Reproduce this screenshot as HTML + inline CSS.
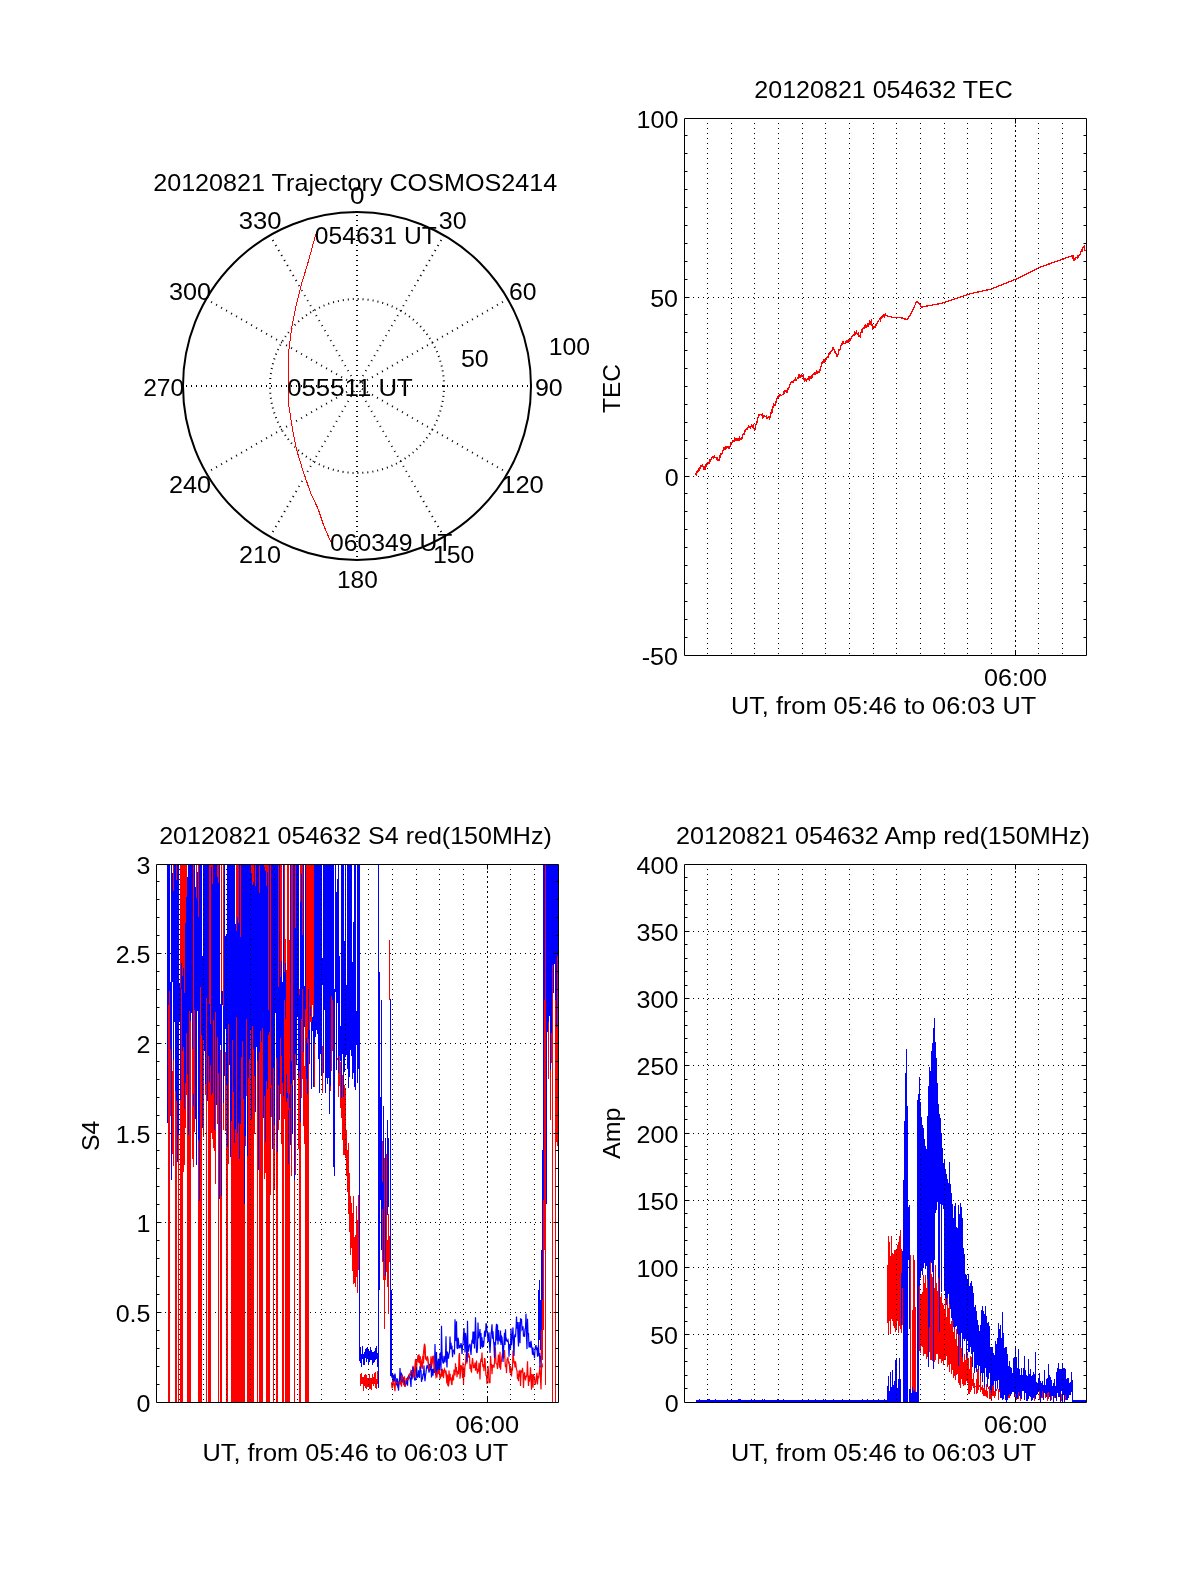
<!DOCTYPE html>
<html><head><meta charset="utf-8"><title>plot</title><style>html,body{margin:0;padding:0;background:#fff;width:1200px;height:1575px;overflow:hidden}svg text{font-family:"Liberation Sans",sans-serif}</style></head><body><svg width="1200" height="1575" viewBox="0 0 1200 1575" style="display:block;background:#fff">
<rect width="1200" height="1575" fill="#fff"/>
<circle cx="357.0" cy="386.0" r="87" fill="none" stroke="#000" stroke-width="2" stroke-dasharray="1 4"/>
<line x1="357.00" y1="386.00" x2="357.00" y2="212.00" stroke="#000" stroke-width="2" stroke-dasharray="1 4.000"/>
<line x1="357.00" y1="386.00" x2="444.00" y2="235.31" stroke="#000" stroke-width="2" stroke-dasharray="1 4.774"/>
<line x1="357.00" y1="386.00" x2="507.69" y2="299.00" stroke="#000" stroke-width="2" stroke-dasharray="1 4.774"/>
<line x1="357.00" y1="386.00" x2="531.00" y2="386.00" stroke="#000" stroke-width="2" stroke-dasharray="1 4.000"/>
<line x1="357.00" y1="386.00" x2="507.69" y2="473.00" stroke="#000" stroke-width="2" stroke-dasharray="1 4.774"/>
<line x1="357.00" y1="386.00" x2="444.00" y2="536.69" stroke="#000" stroke-width="2" stroke-dasharray="1 4.774"/>
<line x1="357.00" y1="386.00" x2="357.00" y2="560.00" stroke="#000" stroke-width="2" stroke-dasharray="1 4.000"/>
<line x1="357.00" y1="386.00" x2="270.00" y2="536.69" stroke="#000" stroke-width="2" stroke-dasharray="1 4.774"/>
<line x1="357.00" y1="386.00" x2="206.31" y2="473.00" stroke="#000" stroke-width="2" stroke-dasharray="1 4.774"/>
<line x1="357.00" y1="386.00" x2="183.00" y2="386.00" stroke="#000" stroke-width="2" stroke-dasharray="1 4.000"/>
<line x1="357.00" y1="386.00" x2="206.31" y2="299.00" stroke="#000" stroke-width="2" stroke-dasharray="1 4.774"/>
<line x1="357.00" y1="386.00" x2="270.00" y2="235.31" stroke="#000" stroke-width="2" stroke-dasharray="1 4.774"/>
<circle cx="357.0" cy="386.0" r="174.0" fill="none" stroke="#000" stroke-width="2"/>
<polyline fill="none" stroke="#f00" stroke-width="1" shape-rendering="crispEdges" points="315.9,234.0 307.8,263.2 301.3,284.8 295.9,306.3 291.6,327.9 288.9,349.5 288.3,370.0 288.5,386.0 289.0,406.6 292.3,428.2 296.6,449.8 303.1,471.3 310.6,492.9 318.2,509.1 323.6,525.3 330.6,541.5"/>
<g stroke="#000" stroke-width="1" fill="none">
<line x1="1015.5" y1="125" x2="1015.5" y2="655" stroke-dasharray="1 4"/>
<line x1="688" y1="476.5" x2="1086" y2="476.5" stroke-dasharray="1 4"/>
<line x1="688" y1="297.5" x2="1086" y2="297.5" stroke-dasharray="1 4"/>
</g>
<polyline fill="none" stroke="#f00" stroke-width="1.3" shape-rendering="crispEdges" points="695.5,475.1 696.0,473.7 696.5,474.5 697.0,471.8 697.5,472.4 698.0,471.1 698.5,469.3 699.0,469.9 699.5,467.6 700.0,468.0 700.5,466.0 701.0,465.2 701.5,465.5 702.0,466.9 702.5,465.4 703.0,466.5 703.5,468.5 704.0,469.6 704.5,467.8 705.0,466.7 705.5,467.9 706.0,464.4 706.5,466.4 707.0,463.9 707.5,462.9 708.0,462.2 708.5,462.2 709.0,463.2 709.5,460.6 710.0,461.3 710.5,460.9 711.0,459.4 711.5,459.4 712.0,457.2 712.5,456.6 713.0,456.5 713.5,457.4 714.0,456.0 714.5,455.7 715.0,457.1 715.5,457.2 716.0,457.2 716.5,459.3 717.0,459.5 717.5,458.6 718.0,460.1 718.5,459.9 719.0,460.0 719.5,458.6 720.0,456.1 720.5,457.4 721.0,453.6 721.5,453.6 722.0,453.7 722.5,450.8 723.0,450.8 723.5,448.4 724.0,449.4 724.5,448.7 725.0,447.9 725.5,448.7 726.0,446.8 726.5,448.0 727.0,447.5 727.5,447.4 728.0,446.9 728.5,448.0 729.0,448.3 729.5,446.7 730.0,446.7 730.5,443.6 731.0,444.4 731.5,443.0 732.0,443.0 732.5,442.3 733.0,440.4 733.5,440.6 734.0,441.3 734.5,439.1 735.0,440.3 735.5,439.2 736.0,438.9 736.5,438.5 737.0,440.6 737.5,438.4 738.0,438.6 738.5,438.9 739.0,440.3 739.5,437.6 740.0,438.6 740.5,438.7 741.0,439.6 741.5,438.9 742.0,438.1 742.5,435.4 743.0,435.0 743.5,433.9 744.0,434.7 744.5,434.0 745.0,430.6 745.5,429.9 746.0,429.6 746.5,429.1 747.0,429.4 747.5,429.2 748.0,427.7 748.5,426.4 749.0,427.2 749.5,426.5 750.0,426.7 750.5,427.4 751.0,426.1 751.5,425.0 752.0,425.6 752.5,426.4 753.0,425.1 753.5,428.5 754.0,428.8 754.5,429.8 755.0,429.3 755.5,426.4 756.0,424.8 756.5,422.2 757.0,422.3 757.5,418.9 758.0,417.3 758.5,416.1 759.0,414.3 759.5,415.0 760.0,414.2 760.5,414.2 761.0,414.8 761.5,414.8 762.0,415.7 762.5,414.8 763.0,417.6 763.5,416.9 764.0,415.5 764.5,416.0 765.0,416.4 765.5,416.6 766.0,416.0 766.5,418.4 767.0,419.0 767.5,417.6 768.0,418.1 768.5,417.4 769.0,417.9 769.5,418.8 770.0,416.8 770.5,417.0 771.0,413.1 771.5,411.0 772.0,412.3 772.5,409.3 773.0,407.0 773.5,407.2 774.0,404.4 774.5,404.9 775.0,405.3 775.5,403.8 776.0,402.2 776.5,399.7 777.0,399.0 777.5,397.3 778.0,398.1 778.5,396.2 779.0,396.4 779.5,394.7 780.0,394.1 780.5,395.7 781.0,396.0 781.5,395.4 782.0,395.0 782.5,394.8 783.0,394.3 783.5,392.4 784.0,393.1 784.5,392.3 785.0,391.0 785.5,390.8 786.0,391.3 786.5,391.0 787.0,392.2 787.5,391.8 788.0,388.6 788.5,388.7 789.0,387.4 789.5,386.4 790.0,384.0 790.5,383.0 791.0,382.5 791.5,381.9 792.0,381.5 792.5,382.3 793.0,382.7 793.5,382.0 794.0,380.3 794.5,380.4 795.0,380.4 795.5,377.6 796.0,379.2 796.5,379.7 797.0,379.0 797.5,378.6 798.0,377.4 798.5,376.2 799.0,377.9 799.5,376.1 800.0,377.3 800.5,377.6 801.0,375.4 801.5,375.2 802.0,376.6 802.5,375.6 803.0,375.2 803.5,377.6 804.0,378.8 804.5,381.1 805.0,380.7 805.5,378.4 806.0,380.5 806.5,380.9 807.0,379.7 807.5,378.6 808.0,379.1 808.5,377.4 809.0,376.6 809.5,379.3 810.0,377.9 810.5,377.2 811.0,378.1 811.5,376.2 812.0,377.2 812.5,376.7 813.0,374.4 813.5,374.1 814.0,373.9 814.5,373.3 815.0,374.1 815.5,372.7 816.0,372.8 816.5,371.5 817.0,373.7 817.5,371.5 818.0,371.5 818.5,371.5 819.0,372.2 819.5,370.1 820.0,370.5 820.5,368.0 821.0,366.9 821.5,365.7 822.0,362.9 822.5,363.1 823.0,361.8 823.5,360.7 824.0,362.8 824.5,360.3 825.0,360.7 825.5,361.0 826.0,359.7 826.5,358.1 827.0,357.9 827.5,357.1 828.0,357.0 828.5,354.0 829.0,354.6 829.5,352.7 830.0,352.0 830.5,352.7 831.0,351.0 831.5,350.3 832.0,350.1 832.5,349.7 833.0,347.7 833.5,349.1 834.0,349.6 834.5,350.5 835.0,352.0 835.5,352.1 836.0,353.2 836.5,353.9 837.0,356.2 837.5,354.8 838.0,354.2 838.5,353.3 839.0,350.0 839.5,349.9 840.0,350.0 840.5,348.6 841.0,345.2 841.5,344.1 842.0,344.0 842.5,342.1 843.0,342.4 843.5,341.7 844.0,343.4 844.5,343.6 845.0,343.7 845.5,341.2 846.0,342.8 846.5,342.4 847.0,340.5 847.5,342.7 848.0,342.5 848.5,339.6 849.0,341.4 849.5,339.2 850.0,338.9 850.5,340.0 851.0,339.0 851.5,336.4 852.0,336.7 852.5,336.5 853.0,335.4 853.5,334.5 854.0,334.3 854.5,335.1 855.0,332.4 855.5,333.6 856.0,333.0 856.5,331.9 857.0,333.2 857.5,334.3 858.0,334.2 858.5,333.1 859.0,336.3 859.5,335.9 860.0,336.7 860.5,332.9 861.0,332.5 861.5,330.8 862.0,332.1 862.5,329.5 863.0,328.1 863.5,328.0 864.0,328.6 864.5,327.8 865.0,325.7 865.5,325.1 866.0,327.3 866.5,325.9 867.0,326.1 867.5,323.9 868.0,323.5 868.5,325.1 869.0,323.6 869.5,321.9 870.0,324.0 870.5,322.3 871.0,322.2 871.5,319.3 872.0,325.4 872.5,326.5 873.0,328.7 873.5,327.0 874.0,326.3 874.5,326.6 875.0,327.4 875.5,324.9 876.0,324.1 876.5,325.0 877.0,323.5 877.5,322.2 878.0,321.5 878.5,320.3 879.0,320.0 879.5,319.5 880.0,318.8 880.5,319.9 881.0,318.0 881.5,318.2 882.0,316.8 882.5,316.9 883.0,315.5 883.5,315.8 884.0,314.7 884.5,316.5 885.0,315.6 885.5,314.5 886.0,315.7 886.5,315.8 887.0,315.9 887.5,316.0 888.0,316.2 888.5,316.3 889.0,316.4 889.5,316.5 890.0,316.7 890.5,316.8 891.0,316.9 891.5,317.0 892.0,317.2 892.5,317.3 893.0,317.4 893.5,317.5 894.0,317.5 894.5,317.5 895.0,317.5 895.5,317.5 896.0,317.5 896.5,317.5 897.0,317.4 897.5,317.4 898.0,317.4 898.5,317.4 899.0,317.4 899.5,317.4 900.0,317.4 900.5,317.6 901.0,317.7 901.5,317.9 902.0,318.0 902.5,318.2 903.0,318.4 903.5,318.5 904.0,318.7 904.5,318.9 905.0,319.0 905.5,319.2 906.0,319.3 906.5,319.5 907.0,319.7 907.5,319.1 908.0,318.3 908.5,317.5 909.0,316.7 909.5,315.9 910.0,315.1 910.5,314.3 911.0,313.6 911.5,312.5 912.0,311.5 912.5,310.4 913.0,309.3 913.5,308.2 914.0,307.1 914.5,306.0 915.0,305.0 915.5,303.9 916.0,302.8 916.5,301.7 917.0,301.8 917.5,302.1 918.0,302.4 918.5,302.8 919.0,303.1 919.5,303.9 920.0,304.8 920.5,305.6 921.0,306.4 921.5,307.1 922.0,307.0 922.5,306.9 923.0,306.8 923.5,306.7 924.0,306.6 924.5,306.5 925.0,306.4 925.5,306.3 926.0,306.2 926.5,306.1 927.0,306.0 927.5,306.0 928.0,305.9 928.5,305.8 929.0,305.7 929.5,305.6 930.0,305.5 930.5,305.4 931.0,305.3 931.5,305.2 932.0,305.1 932.5,305.0 933.0,304.9 933.5,304.8 934.0,304.7 934.5,304.6 935.0,304.5 935.5,304.5 936.0,304.4 936.5,304.3 937.0,304.2 937.5,304.1 938.0,304.0 938.5,303.9 939.0,303.8 939.5,303.7 940.0,303.6 940.5,303.5 941.0,303.4 941.5,303.3 942.0,303.2 942.5,303.1 943.0,303.0 943.5,302.8 944.0,302.7 944.5,302.5 945.0,302.3 945.5,302.2 946.0,302.0 946.5,301.8 947.0,301.7 947.5,301.5 948.0,301.3 948.5,301.2 949.0,301.0 949.5,300.8 950.0,300.7 950.5,300.5 951.0,300.3 951.5,300.2 952.0,300.0 952.5,299.8 953.0,299.7 953.5,299.5 954.0,299.3 954.5,299.2 955.0,299.0 955.5,298.8 956.0,298.7 956.5,298.5 957.0,298.3 957.5,298.2 958.0,298.0 958.5,297.8 959.0,297.7 959.5,297.5 960.0,297.3 960.5,297.2 961.0,297.0 961.5,296.8 962.0,296.7 962.5,296.5 963.0,296.3 963.5,296.2 964.0,296.0 964.5,295.8 965.0,295.7 965.5,295.5 966.0,295.3 966.5,295.2 967.0,295.0 967.5,294.8 968.0,294.7 968.5,294.5 969.0,294.3 969.5,294.2 970.0,294.0 970.5,293.8 971.0,293.7 971.5,293.5 972.0,293.4 972.5,293.3 973.0,293.2 973.5,293.1 974.0,293.0 974.5,292.8 975.0,292.7 975.5,292.6 976.0,292.5 976.5,292.4 977.0,292.3 977.5,292.2 978.0,292.0 978.5,291.9 979.0,291.8 979.5,291.7 980.0,291.6 980.5,291.5 981.0,291.4 981.5,291.2 982.0,291.1 982.5,291.0 983.0,290.9 983.5,290.8 984.0,290.7 984.5,290.6 985.0,290.5 985.5,290.3 986.0,290.2 986.5,290.1 987.0,290.0 987.5,289.9 988.0,289.8 988.5,289.7 989.0,289.5 989.5,289.4 990.0,289.3 990.5,289.2 991.0,289.1 991.5,289.0 992.0,288.8 992.5,288.6 993.0,288.4 993.5,288.2 994.0,288.0 994.5,287.8 995.0,287.6 995.5,287.4 996.0,287.2 996.5,287.0 997.0,286.8 997.5,286.6 998.0,286.4 998.5,286.2 999.0,286.0 999.5,285.8 1000.0,285.6 1000.5,285.4 1001.0,285.2 1001.5,285.0 1002.0,284.8 1002.5,284.6 1003.0,284.4 1003.5,284.2 1004.0,284.0 1004.5,283.8 1005.0,283.6 1005.5,283.4 1006.0,283.2 1006.5,283.0 1007.0,282.8 1007.5,282.6 1008.0,282.4 1008.5,282.2 1009.0,282.0 1009.5,281.8 1010.0,281.6 1010.5,281.4 1011.0,281.2 1011.5,281.0 1012.0,280.8 1012.5,280.6 1013.0,280.4 1013.5,280.2 1014.0,280.0 1014.5,279.8 1015.0,279.6 1015.5,279.4 1016.0,279.2 1016.5,278.9 1017.0,278.7 1017.5,278.4 1018.0,278.2 1018.5,277.9 1019.0,277.7 1019.5,277.4 1020.0,277.2 1020.5,276.9 1021.0,276.7 1021.5,276.4 1022.0,276.2 1022.5,275.9 1023.0,275.7 1023.5,275.4 1024.0,275.2 1024.5,274.9 1025.0,274.7 1025.5,274.4 1026.0,274.2 1026.5,273.9 1027.0,273.7 1027.5,273.4 1028.0,273.2 1028.5,272.9 1029.0,272.7 1029.5,272.4 1030.0,272.2 1030.5,271.9 1031.0,271.7 1031.5,271.4 1032.0,271.2 1032.5,270.9 1033.0,270.7 1033.5,270.4 1034.0,270.2 1034.5,269.9 1035.0,269.7 1035.5,269.4 1036.0,269.2 1036.5,268.9 1037.0,268.7 1037.5,268.4 1038.0,268.2 1038.5,267.9 1039.0,267.7 1039.5,267.4 1040.0,267.2 1040.5,267.1 1041.0,266.9 1041.5,266.7 1042.0,266.5 1042.5,266.4 1043.0,266.2 1043.5,266.0 1044.0,265.8 1044.5,265.6 1045.0,265.5 1045.5,265.3 1046.0,265.1 1046.5,264.9 1047.0,264.7 1047.5,264.6 1048.0,264.4 1048.5,264.2 1049.0,264.0 1049.5,263.9 1050.0,263.7 1050.5,263.5 1051.0,263.3 1051.5,263.1 1052.0,263.0 1052.5,262.8 1053.0,262.6 1053.5,262.4 1054.0,262.2 1054.5,262.1 1055.0,261.9 1055.5,261.7 1056.0,261.5 1056.5,261.4 1057.0,261.2 1057.5,261.0 1058.0,260.8 1058.5,260.6 1059.0,260.5 1059.5,260.3 1060.0,260.1 1060.5,259.9 1061.0,259.7 1061.5,259.6 1062.0,259.4 1062.5,259.2 1063.0,259.0 1063.5,258.9 1064.0,258.7 1064.5,258.5 1065.0,258.3 1065.5,258.1 1066.0,258.0 1066.5,257.8 1067.0,257.6 1067.5,257.4 1068.0,257.2 1068.5,257.1 1069.0,256.9 1069.5,256.7 1070.0,256.5 1070.5,256.4 1071.0,256.2 1071.5,256.0 1072.0,255.8 1072.5,255.6 1073.0,257.9 1073.5,256.7 1074.0,260.1 1074.5,259.1 1075.0,258.9 1075.5,259.4 1076.0,257.7 1076.5,257.6 1077.0,257.7 1077.5,258.1 1078.0,255.8 1078.5,256.8 1079.0,256.0 1079.5,255.3 1080.0,254.2 1080.5,253.5 1081.0,251.6 1081.5,250.7 1082.0,249.4 1082.5,250.3 1083.0,247.7 1083.5,246.3 1084.0,246.2 1084.5,249.3 1085.0,250.3 1085.5,250.5 1086.0,250.2"/>
<g stroke="#000" stroke-width="1" fill="none">
<line x1="707.5" y1="123" x2="707.5" y2="655" stroke-dasharray="1 4"/>
<line x1="731.5" y1="123" x2="731.5" y2="655" stroke-dasharray="1 4"/>
<line x1="754.5" y1="123" x2="754.5" y2="655" stroke-dasharray="1 4"/>
<line x1="778.5" y1="123" x2="778.5" y2="655" stroke-dasharray="1 4"/>
<line x1="802.5" y1="123" x2="802.5" y2="655" stroke-dasharray="1 4"/>
<line x1="825.5" y1="123" x2="825.5" y2="655" stroke-dasharray="1 4"/>
<line x1="849.5" y1="123" x2="849.5" y2="655" stroke-dasharray="1 4"/>
<line x1="873.5" y1="123" x2="873.5" y2="655" stroke-dasharray="1 4"/>
<line x1="896.5" y1="123" x2="896.5" y2="655" stroke-dasharray="1 4"/>
<line x1="920.5" y1="123" x2="920.5" y2="655" stroke-dasharray="1 4"/>
<line x1="944.5" y1="123" x2="944.5" y2="655" stroke-dasharray="1 4"/>
<line x1="967.5" y1="123" x2="967.5" y2="655" stroke-dasharray="1 4"/>
<line x1="991.5" y1="123" x2="991.5" y2="655" stroke-dasharray="1 4"/>
<line x1="1015.5" y1="126" x2="1015.5" y2="655" stroke-dasharray="1 4"/>
<line x1="1038.5" y1="123" x2="1038.5" y2="655" stroke-dasharray="1 4"/>
<line x1="1062.5" y1="123" x2="1062.5" y2="655" stroke-dasharray="1 4"/>
</g>
<path fill="none" stroke="#000" stroke-width="1" d="M684.5 118.5H1086.5V655.5H684.5ZM684.5 637.5h3M1086.5 637.5h-3M684.5 619.5h3M1086.5 619.5h-3M684.5 601.5h3M1086.5 601.5h-3M684.5 583.5h3M1086.5 583.5h-3M684.5 565.5h3M1086.5 565.5h-3M684.5 547.5h3M1086.5 547.5h-3M684.5 529.5h3M1086.5 529.5h-3M684.5 511.5h3M1086.5 511.5h-3M684.5 493.5h3M1086.5 493.5h-3M684.5 476.5h5M1086.5 476.5h-5M684.5 458.5h3M1086.5 458.5h-3M684.5 440.5h3M1086.5 440.5h-3M684.5 422.5h3M1086.5 422.5h-3M684.5 404.5h3M1086.5 404.5h-3M684.5 386.5h3M1086.5 386.5h-3M684.5 368.5h3M1086.5 368.5h-3M684.5 350.5h3M1086.5 350.5h-3M684.5 332.5h3M1086.5 332.5h-3M684.5 314.5h3M1086.5 314.5h-3M684.5 297.5h5M1086.5 297.5h-5M684.5 279.5h3M1086.5 279.5h-3M684.5 261.5h3M1086.5 261.5h-3M684.5 243.5h3M1086.5 243.5h-3M684.5 225.5h3M1086.5 225.5h-3M684.5 207.5h3M1086.5 207.5h-3M684.5 189.5h3M1086.5 189.5h-3M684.5 171.5h3M1086.5 171.5h-3M684.5 153.5h3M1086.5 153.5h-3M684.5 135.5h3M1086.5 135.5h-3M1015.5 118.5v5M1015.5 655.5v-5"/>
<g stroke="#000" stroke-width="1" fill="none">
<line x1="487.5" y1="871" x2="487.5" y2="1402" stroke-dasharray="1 4"/>
<line x1="160" y1="1312.5" x2="558" y2="1312.5" stroke-dasharray="1 4"/>
<line x1="160" y1="1222.5" x2="558" y2="1222.5" stroke-dasharray="1 4"/>
<line x1="160" y1="1133.5" x2="558" y2="1133.5" stroke-dasharray="1 4"/>
<line x1="160" y1="1043.5" x2="558" y2="1043.5" stroke-dasharray="1 4"/>
<line x1="160" y1="953.5" x2="558" y2="953.5" stroke-dasharray="1 4"/>
</g>
<path fill="#f00" d="M168 865h1v537h-1zM169 865h1v537h-1zM170 1035h1v81h-1zM171 865h1v275h-1zM172 1071h1v83h-1zM173 865h1v301h-1zM175 865h1v537h-1zM176 865h1v537h-1zM177 865h1v225h-1zM178 865h1v537h-1zM180 865h1v537h-1zM181 865h1v537h-1zM182 865h1v537h-1zM183 865h1v307h-1zM184 865h1v300h-1zM185 865h1v263h-1zM186 865h1v230h-1zM187 1063h1v339h-1zM188 865h1v537h-1zM189 865h1v537h-1zM190 865h1v537h-1zM192 865h1v294h-1zM193 865h1v302h-1zM194 865h1v267h-1zM195 1054h1v23h-1zM196 865h1v224h-1zM198 865h1v537h-1zM199 865h1v537h-1zM200 865h1v537h-1zM201 865h1v537h-1zM203 865h1v272h-1zM205 865h1v230h-1zM206 865h1v537h-1zM207 865h1v225h-1zM208 865h1v537h-1zM209 865h1v537h-1zM210 865h1v537h-1zM211 865h1v268h-1zM212 865h1v274h-1zM213 865h1v283h-1zM214 865h1v286h-1zM215 865h1v319h-1zM217 865h1v259h-1zM218 865h1v537h-1zM220 1050h1v352h-1zM221 865h1v537h-1zM223 865h1v265h-1zM225 1052h1v79h-1zM226 964h1v438h-1zM227 865h1v537h-1zM228 865h1v299h-1zM231 865h1v537h-1zM232 865h1v537h-1zM233 865h1v537h-1zM234 865h1v537h-1zM235 1050h1v352h-1zM236 865h1v537h-1zM237 865h1v537h-1zM238 865h1v537h-1zM239 865h1v537h-1zM240 865h1v537h-1zM241 865h1v537h-1zM242 865h1v537h-1zM243 865h1v537h-1zM244 865h1v537h-1zM245 865h1v281h-1zM246 865h1v231h-1zM247 865h1v537h-1zM248 865h1v537h-1zM249 865h1v537h-1zM250 865h1v537h-1zM251 865h1v537h-1zM252 865h1v537h-1zM253 865h1v537h-1zM254 865h1v269h-1zM255 865h1v233h-1zM257 865h1v537h-1zM259 865h1v537h-1zM260 865h1v537h-1zM261 865h1v537h-1zM262 865h1v537h-1zM264 865h1v314h-1zM265 865h1v308h-1zM266 865h1v537h-1zM267 865h1v537h-1zM268 865h1v537h-1zM269 865h1v537h-1zM270 865h1v330h-1zM271 865h1v252h-1zM272 865h1v261h-1zM273 865h1v537h-1zM274 865h1v324h-1zM276 865h1v537h-1zM277 865h1v537h-1zM278 865h1v265h-1zM280 865h1v229h-1zM281 865h1v279h-1zM282 994h1v408h-1zM283 865h1v537h-1zM284 865h1v254h-1zM285 939h1v463h-1zM286 970h1v432h-1zM287 865h1v537h-1zM288 865h1v537h-1zM289 940h1v462h-1zM291 865h1v311h-1zM292 865h1v225h-1zM294 865h1v537h-1zM295 865h1v310h-1zM298 865h1v284h-1zM299 989h1v413h-1zM300 865h1v537h-1zM301 865h1v233h-1zM302 865h1v214h-1zM303 865h1v261h-1zM304 1066h1v78h-1zM305 865h1v537h-1zM306 865h1v537h-1zM307 865h1v537h-1zM308 865h1v537h-1zM309 865h1v183h-1zM310 865h1v157h-1zM311 865h1v199h-1zM312 865h1v140h-1zM313 865h1v166h-1zM314 865h1v222h-1zM315 865h1v164h-1zM317 865h1v162h-1zM318 865h1v151h-1zM321 865h1v179h-1zM322 1046h1v47h-1zM323 865h1v188h-1zM325 865h1v198h-1zM327 865h1v179h-1zM330 865h1v226h-1zM331 865h1v206h-1zM332 865h1v186h-1zM333 865h1v167h-1zM336 1022h1v23h-1zM337 1058h1v2h-1zM338 1017h1v80h-1zM339 1044h1v42h-1zM340 1062h1v46h-1zM341 1056h1v62h-1zM342 1075h1v65h-1zM343 1094h1v61h-1zM344 1085h1v70h-1zM345 1088h1v70h-1zM346 1130h1v46h-1zM347 1150h1v42h-1zM348 1143h1v71h-1zM349 1173h1v59h-1zM350 1196h1v59h-1zM351 1203h1v45h-1zM352 1213h1v58h-1zM353 1196h1v88h-1zM354 1237h1v46h-1zM355 1235h1v52h-1zM356 1206h1v71h-1zM357 1220h1v73h-1zM358 1195h1v75h-1zM359 1211h1v72h-1zM360 1374h1v12h-1zM361 1373h1v11h-1zM362 1377h1v7h-1zM363 1377h1v14h-1zM364 1375h1v11h-1zM365 1374h1v14h-1zM366 1375h1v14h-1zM367 1378h1v9h-1zM368 1378h1v9h-1zM369 1374h1v15h-1zM370 1378h1v11h-1zM371 1378h1v12h-1zM372 1374h1v10h-1zM373 1377h1v9h-1zM374 1373h1v11h-1zM375 1372h1v16h-1zM376 1379h1v10h-1zM377 1371h1v13h-1zM389 940h1v60h-1zM382 1141h1v121h-1zM383 1127h1v153h-1zM384 1158h1v171h-1zM385 1207h1v73h-1zM386 1154h1v118h-1zM387 1240h1v47h-1zM388 1214h1v100h-1zM389 1236h1v26h-1zM390 1148h1v141h-1zM543 865h1v312h-1zM545 1092h1v293h-1zM548 865h1v214h-1zM549 865h1v144h-1zM550 865h1v255h-1zM551 865h1v198h-1zM552 865h1v537h-1zM555 865h1v537h-1zM556 865h1v277h-1zM557 865h1v281h-1z"/>
<path fill="#00f" d="M167 865h1v258h-1zM168 865h1v140h-1zM169 865h1v126h-1zM170 982h1v67h-1zM171 865h1v315h-1zM172 873h1v109h-1zM173 891h1v169h-1zM174 865h1v157h-1zM175 865h1v226h-1zM176 880h1v221h-1zM177 865h1v297h-1zM178 865h1v270h-1zM179 983h1v39h-1zM180 988h1v112h-1zM181 963h1v26h-1zM182 976h1v75h-1zM183 968h1v79h-1zM184 993h1v116h-1zM185 923h1v160h-1zM186 897h1v136h-1zM187 877h1v197h-1zM188 865h1v270h-1zM189 865h1v146h-1zM190 865h1v156h-1zM191 865h1v148h-1zM192 865h1v184h-1zM193 1094h1v12h-1zM194 865h1v145h-1zM195 887h1v232h-1zM196 898h1v267h-1zM197 872h1v139h-1zM198 917h1v223h-1zM199 865h1v336h-1zM200 865h1v122h-1zM201 865h1v170h-1zM202 956h1v172h-1zM203 865h1v175h-1zM204 865h1v186h-1zM205 865h1v219h-1zM206 865h1v133h-1zM207 865h1v236h-1zM208 865h1v191h-1zM209 1004h1v78h-1zM210 1024h1v41h-1zM211 867h1v228h-1zM212 884h1v209h-1zM213 865h1v155h-1zM214 865h1v265h-1zM215 865h1v147h-1zM216 865h1v240h-1zM217 877h1v160h-1zM218 883h1v190h-1zM219 865h1v334h-1zM220 1004h1v41h-1zM221 991h1v205h-1zM222 991h1v14h-1zM223 1006h1v97h-1zM224 865h1v211h-1zM225 936h1v93h-1zM226 935h1v150h-1zM227 865h1v282h-1zM228 865h1v159h-1zM229 865h1v200h-1zM230 865h1v292h-1zM231 865h1v256h-1zM232 865h1v175h-1zM233 865h1v227h-1zM234 865h1v278h-1zM235 924h1v205h-1zM236 931h1v86h-1zM237 917h1v216h-1zM238 923h1v200h-1zM239 865h1v294h-1zM240 937h1v187h-1zM241 865h1v192h-1zM242 865h1v176h-1zM243 865h1v234h-1zM244 865h1v339h-1zM245 865h1v271h-1zM246 865h1v154h-1zM247 865h1v291h-1zM248 865h1v213h-1zM249 865h1v194h-1zM250 865h1v165h-1zM251 873h1v246h-1zM252 885h1v141h-1zM253 882h1v167h-1zM254 865h1v211h-1zM255 886h1v226h-1zM256 865h1v182h-1zM257 865h1v196h-1zM258 865h1v305h-1zM259 893h1v159h-1zM260 865h1v166h-1zM261 865h1v177h-1zM262 865h1v163h-1zM263 865h1v253h-1zM264 867h1v229h-1zM265 871h1v271h-1zM266 886h1v195h-1zM267 872h1v217h-1zM268 1010h1v25h-1zM269 865h1v167h-1zM270 1088h1v29h-1zM271 865h1v220h-1zM272 865h1v284h-1zM273 865h1v203h-1zM274 865h1v260h-1zM275 865h1v148h-1zM276 865h1v193h-1zM277 865h1v287h-1zM278 987h1v98h-1zM279 865h1v255h-1zM280 977h1v61h-1zM281 961h1v95h-1zM282 982h1v101h-1zM283 865h1v231h-1zM284 972h1v28h-1zM285 963h1v56h-1zM286 1074h1v28h-1zM287 1093h1v5h-1zM288 1110h1v54h-1zM289 1094h1v14h-1zM290 865h1v280h-1zM291 1061h1v23h-1zM292 1085h1v49h-1zM293 865h1v215h-1zM294 865h1v315h-1zM295 928h1v126h-1zM296 865h1v200h-1zM297 865h1v152h-1zM298 865h1v213h-1zM299 995h1v76h-1zM300 902h1v220h-1zM301 874h1v145h-1zM302 935h1v54h-1zM303 865h1v187h-1zM304 986h1v41h-1zM305 865h1v144h-1zM306 1038h1v41h-1zM307 1043h1v51h-1zM308 989h1v50h-1zM309 1030h1v34h-1zM310 1007h1v9h-1zM311 1022h1v67h-1zM312 1017h1v14h-1zM313 1016h1v71h-1zM314 865h1v178h-1zM315 865h1v172h-1zM316 865h1v165h-1zM317 865h1v169h-1zM318 865h1v194h-1zM319 865h1v228h-1zM320 865h1v189h-1zM321 865h1v211h-1zM322 958h1v27h-1zM323 865h1v208h-1zM324 865h1v145h-1zM325 865h1v228h-1zM326 865h1v213h-1zM327 865h1v219h-1zM328 865h1v213h-1zM329 865h1v249h-1zM330 865h1v221h-1zM331 865h1v131h-1zM332 865h1v135h-1zM333 865h1v302h-1zM334 989h1v187h-1zM335 865h1v127h-1zM336 892h1v178h-1zM337 879h1v124h-1zM338 865h1v208h-1zM339 956h1v100h-1zM340 1026h1v35h-1zM341 865h1v233h-1zM342 865h1v189h-1zM343 865h1v232h-1zM344 941h1v131h-1zM345 865h1v192h-1zM346 985h1v70h-1zM347 865h1v204h-1zM348 865h1v223h-1zM349 865h1v212h-1zM350 865h1v185h-1zM351 865h1v191h-1zM352 962h1v117h-1zM353 922h1v151h-1zM354 865h1v222h-1zM355 865h1v225h-1zM356 1011h1v34h-1zM357 865h1v218h-1zM358 865h1v204h-1zM359 865h1v496h-1zM360 1347h1v16h-1zM361 1354h1v13h-1zM362 1346h1v13h-1zM363 1354h1v11h-1zM364 1352h1v13h-1zM365 1349h1v9h-1zM366 1348h1v14h-1zM367 1347h1v12h-1zM368 1349h1v15h-1zM369 1351h1v11h-1zM370 1347h1v13h-1zM371 1350h1v10h-1zM372 1352h1v13h-1zM373 1352h1v11h-1zM374 1351h1v11h-1zM375 1348h1v12h-1zM376 1346h1v13h-1zM377 1353h1v14h-1zM378 865h1v523h-1zM379 972h1v318h-1zM381 1000h1v250h-1zM380 1097h1v103h-1zM382 1182h1v27h-1zM383 1106h1v155h-1zM385 1138h1v138h-1zM387 1120h1v95h-1zM388 1138h1v69h-1zM390 999h1v377h-1zM391 1290h1v86h-1zM545 865h1v207h-1zM546 865h1v219h-1zM547 865h1v167h-1zM548 865h1v157h-1zM549 865h1v151h-1zM550 865h1v205h-1zM551 865h1v168h-1zM552 865h1v100h-1zM553 865h1v128h-1zM554 865h1v99h-1zM555 865h1v135h-1zM556 865h1v162h-1zM557 865h1v91h-1zM546 1000h1v204h-1z"/>
<polyline fill="none" stroke="#f00" stroke-width="1.2" stroke-linejoin="miter" points="391.5,1382.6 392.0,1388.3 392.5,1387.1 393.0,1381.0 393.5,1379.5 394.0,1383.8 394.5,1386.9 395.0,1391.1 395.5,1379.6 396.0,1381.7 396.5,1381.5 397.0,1378.6 397.5,1383.3 398.0,1388.3 398.5,1382.6 399.0,1382.5 399.5,1380.8 400.0,1383.7 400.5,1382.3 401.0,1383.4 401.5,1386.6 402.0,1375.1 402.5,1376.7 403.0,1378.7 403.5,1383.7 404.0,1385.3 404.5,1376.4 405.0,1386.4 405.5,1384.7 406.0,1383.2 406.5,1378.0 407.0,1381.2 407.5,1377.3 408.0,1380.0 408.5,1376.2 409.0,1374.9 409.5,1374.3 410.0,1374.7 410.5,1375.3 411.0,1371.3 411.5,1372.4 412.0,1371.4 412.5,1371.4 413.0,1365.8 413.5,1372.6 414.0,1377.4 414.5,1372.7 415.0,1376.7 415.5,1359.2 416.0,1362.8 416.5,1373.0 417.0,1360.5 417.5,1359.5 418.0,1355.1 418.5,1362.3 419.0,1354.2 419.5,1363.2 420.0,1356.4 420.5,1368.3 421.0,1361.8 421.5,1361.9 422.0,1368.4 422.5,1368.3 423.0,1356.1 423.5,1363.4 424.0,1354.2 424.5,1343.9 425.0,1345.8 425.5,1357.8 426.0,1359.3 426.5,1360.0 427.0,1357.1 427.5,1356.8 428.0,1359.5 428.5,1365.6 429.0,1369.5 429.5,1370.9 430.0,1370.5 430.5,1364.6 431.0,1356.2 431.5,1368.3 432.0,1363.7 432.5,1357.0 433.0,1357.6 433.5,1356.8 434.0,1367.9 434.5,1373.0 435.0,1371.3 435.5,1370.9 436.0,1377.0 436.5,1375.9 437.0,1377.5 437.5,1362.6 438.0,1370.3 438.5,1374.1 439.0,1363.4 439.5,1373.6 440.0,1378.5 440.5,1377.7 441.0,1375.1 441.5,1369.0 442.0,1376.8 442.5,1369.8 443.0,1370.5 443.5,1378.2 444.0,1372.3 444.5,1369.2 445.0,1370.5 445.5,1371.4 446.0,1371.2 446.5,1375.3 447.0,1383.3 447.5,1374.5 448.0,1384.8 448.5,1386.2 449.0,1370.6 449.5,1381.0 450.0,1373.9 450.5,1380.1 451.0,1377.4 451.5,1383.9 452.0,1385.0 452.5,1375.9 453.0,1376.9 453.5,1380.5 454.0,1369.6 454.5,1374.1 455.0,1375.4 455.5,1363.2 456.0,1372.1 456.5,1367.1 457.0,1377.3 457.5,1370.8 458.0,1372.9 458.5,1374.3 459.0,1355.5 459.5,1353.1 460.0,1378.8 460.5,1372.8 461.0,1365.1 461.5,1366.7 462.0,1369.6 462.5,1377.9 463.0,1362.5 463.5,1384.7 464.0,1367.5 464.5,1376.9 465.0,1364.9 465.5,1364.9 466.0,1355.1 466.5,1355.8 467.0,1363.6 467.5,1346.0 468.0,1357.4 468.5,1353.0 469.0,1357.8 469.5,1355.4 470.0,1368.9 470.5,1364.3 471.0,1371.1 471.5,1371.8 472.0,1363.0 472.5,1358.0 473.0,1362.3 473.5,1368.2 474.0,1364.9 474.5,1367.9 475.0,1362.6 475.5,1370.8 476.0,1366.8 476.5,1360.6 477.0,1370.7 477.5,1373.7 478.0,1368.9 478.5,1371.7 479.0,1362.9 479.5,1369.7 480.0,1379.4 480.5,1362.6 481.0,1358.6 481.5,1361.9 482.0,1352.6 482.5,1363.9 483.0,1367.1 483.5,1364.3 484.0,1371.1 484.5,1358.1 485.0,1359.4 485.5,1368.4 486.0,1375.7 486.5,1376.0 487.0,1384.0 487.5,1373.4 488.0,1366.0 488.5,1370.6 489.0,1383.2 489.5,1378.7 490.0,1383.2 490.5,1355.9 491.0,1363.6 491.5,1364.4 492.0,1374.3 492.5,1365.4 493.0,1365.8 493.5,1365.4 494.0,1367.8 494.5,1362.4 495.0,1346.2 495.5,1350.5 496.0,1363.4 496.5,1363.7 497.0,1364.6 497.5,1369.0 498.0,1360.1 498.5,1354.6 499.0,1360.5 499.5,1367.8 500.0,1351.8 500.5,1369.8 501.0,1364.0 501.5,1360.2 502.0,1356.3 502.5,1353.3 503.0,1356.7 503.5,1358.3 504.0,1354.0 504.5,1350.0 505.0,1360.8 505.5,1367.1 506.0,1364.4 506.5,1373.1 507.0,1359.4 507.5,1358.4 508.0,1357.2 508.5,1363.7 509.0,1361.5 509.5,1366.4 510.0,1373.0 510.5,1365.7 511.0,1373.4 511.5,1376.4 512.0,1368.8 512.5,1369.4 513.0,1350.3 513.5,1357.6 514.0,1362.6 514.5,1362.2 515.0,1367.4 515.5,1361.3 516.0,1364.9 516.5,1369.8 517.0,1370.5 517.5,1379.3 518.0,1374.1 518.5,1381.3 519.0,1370.7 519.5,1376.8 520.0,1369.8 520.5,1386.0 521.0,1373.9 521.5,1370.3 522.0,1372.6 522.5,1367.9 523.0,1373.5 523.5,1388.0 524.0,1376.0 524.5,1372.4 525.0,1377.5 525.5,1380.5 526.0,1375.8 526.5,1377.2 527.0,1373.0 527.5,1361.3 528.0,1376.7 528.5,1386.0 529.0,1375.6 529.5,1381.8 530.0,1377.2 530.5,1367.3 531.0,1378.1 531.5,1389.7 532.0,1374.1 532.5,1376.8 533.0,1387.8 533.5,1374.2 534.0,1377.2 534.5,1377.1 535.0,1383.7 535.5,1384.0 536.0,1381.2 536.5,1375.5 537.0,1372.8 537.5,1384.4 538.0,1376.1 538.5,1378.3 539.0,1374.4 539.5,1370.6 540.0,1365.4 540.5,1379.8 541.0,1389.5 541.5,1370.2 542.0,1363.2 542.5,1367.3"/>
<polyline fill="none" stroke="#00f" stroke-width="1.2" stroke-linejoin="miter" points="391.5,1375.6 392.0,1377.6 392.5,1373.0 393.0,1381.8 393.5,1376.9 394.0,1374.9 394.5,1381.4 395.0,1373.5 395.5,1378.2 396.0,1378.5 396.5,1384.3 397.0,1385.2 397.5,1378.6 398.0,1383.1 398.5,1390.8 399.0,1383.0 399.5,1381.0 400.0,1368.1 400.5,1377.3 401.0,1381.8 401.5,1373.8 402.0,1374.7 402.5,1382.4 403.0,1376.8 403.5,1380.8 404.0,1382.0 404.5,1381.5 405.0,1386.6 405.5,1384.8 406.0,1384.0 406.5,1382.7 407.0,1378.9 407.5,1385.6 408.0,1377.1 408.5,1376.3 409.0,1377.7 409.5,1376.9 410.0,1378.2 410.5,1381.8 411.0,1386.9 411.5,1370.2 412.0,1379.5 412.5,1375.5 413.0,1366.7 413.5,1370.9 414.0,1372.1 414.5,1379.0 415.0,1380.7 415.5,1377.7 416.0,1379.8 416.5,1367.2 417.0,1374.5 417.5,1377.2 418.0,1376.6 418.5,1370.3 419.0,1375.5 419.5,1378.0 420.0,1366.4 420.5,1369.4 421.0,1370.6 421.5,1381.9 422.0,1378.8 422.5,1378.8 423.0,1373.9 423.5,1375.3 424.0,1365.5 424.5,1376.2 425.0,1381.1 425.5,1375.6 426.0,1372.4 426.5,1368.0 427.0,1365.7 427.5,1366.0 428.0,1368.6 428.5,1368.5 429.0,1372.6 429.5,1363.7 430.0,1370.1 430.5,1364.5 431.0,1364.1 431.5,1377.5 432.0,1372.0 432.5,1368.8 433.0,1375.6 433.5,1368.8 434.0,1372.9 434.5,1368.4 435.0,1344.1 435.5,1366.2 436.0,1375.2 436.5,1352.0 437.0,1372.0 437.5,1370.9 438.0,1361.9 438.5,1358.7 439.0,1369.6 439.5,1367.2 440.0,1353.5 440.5,1353.0 441.0,1370.6 441.5,1325.8 442.0,1352.9 442.5,1360.3 443.0,1362.8 443.5,1363.1 444.0,1355.8 444.5,1359.7 445.0,1362.5 445.5,1356.3 446.0,1336.3 446.5,1359.4 447.0,1367.5 447.5,1351.5 448.0,1357.2 448.5,1358.6 449.0,1354.0 449.5,1352.7 450.0,1336.4 450.5,1349.3 451.0,1342.8 451.5,1349.5 452.0,1345.7 452.5,1357.3 453.0,1350.9 453.5,1350.4 454.0,1349.8 454.5,1354.4 455.0,1319.2 455.5,1333.7 456.0,1341.2 456.5,1321.2 457.0,1347.4 457.5,1349.0 458.0,1337.7 458.5,1340.3 459.0,1348.4 459.5,1345.0 460.0,1348.2 460.5,1346.4 461.0,1343.2 461.5,1345.3 462.0,1354.0 462.5,1346.3 463.0,1344.6 463.5,1334.9 464.0,1328.1 464.5,1339.0 465.0,1352.5 465.5,1332.9 466.0,1336.9 466.5,1352.5 467.0,1361.8 467.5,1320.8 468.0,1349.6 468.5,1351.6 469.0,1345.8 469.5,1345.4 470.0,1343.9 470.5,1349.1 471.0,1354.9 471.5,1346.6 472.0,1339.7 472.5,1343.2 473.0,1331.6 473.5,1344.1 474.0,1331.6 474.5,1348.5 475.0,1336.8 475.5,1317.3 476.0,1334.6 476.5,1351.7 477.0,1352.9 477.5,1347.9 478.0,1322.4 478.5,1338.5 479.0,1335.2 479.5,1333.4 480.0,1329.0 480.5,1349.0 481.0,1332.9 481.5,1346.7 482.0,1337.3 482.5,1347.6 483.0,1340.8 483.5,1346.9 484.0,1341.7 484.5,1332.0 485.0,1330.6 485.5,1336.8 486.0,1323.3 486.5,1324.5 487.0,1331.9 487.5,1333.2 488.0,1342.0 488.5,1338.0 489.0,1332.2 489.5,1343.7 490.0,1353.0 490.5,1343.1 491.0,1334.2 491.5,1330.5 492.0,1324.3 492.5,1338.8 493.0,1331.2 493.5,1340.4 494.0,1345.4 494.5,1357.9 495.0,1341.9 495.5,1345.5 496.0,1329.5 496.5,1323.8 497.0,1340.7 497.5,1324.4 498.0,1344.4 498.5,1330.1 499.0,1340.0 499.5,1340.0 500.0,1340.9 500.5,1330.6 501.0,1345.0 501.5,1336.4 502.0,1337.4 502.5,1344.3 503.0,1362.0 503.5,1351.3 504.0,1342.2 504.5,1332.8 505.0,1345.0 505.5,1329.2 506.0,1341.2 506.5,1339.3 507.0,1341.0 507.5,1341.3 508.0,1340.1 508.5,1343.1 509.0,1356.8 509.5,1344.0 510.0,1345.4 510.5,1348.7 511.0,1328.4 511.5,1345.1 512.0,1338.9 512.5,1334.1 513.0,1327.4 513.5,1346.2 514.0,1355.9 514.5,1336.5 515.0,1334.3 515.5,1337.1 516.0,1329.4 516.5,1316.4 517.0,1328.6 517.5,1322.0 518.0,1336.4 518.5,1346.5 519.0,1322.1 519.5,1335.9 520.0,1343.2 520.5,1318.2 521.0,1323.3 521.5,1318.8 522.0,1329.7 522.5,1328.9 523.0,1326.3 523.5,1336.5 524.0,1335.4 524.5,1336.7 525.0,1329.0 525.5,1328.2 526.0,1313.7 526.5,1337.7 527.0,1349.1 527.5,1318.7 528.0,1333.5 528.5,1333.6 529.0,1347.4 529.5,1345.7 530.0,1342.2 530.5,1347.6 531.0,1340.9 531.5,1345.3 532.0,1348.8 532.5,1354.7 533.0,1347.6 533.5,1355.1 534.0,1352.6 534.5,1358.3 535.0,1349.3 535.5,1346.7 536.0,1345.1 536.5,1350.3 537.0,1347.3 537.5,1356.7 538.0,1353.1 538.5,1345.1 539.0,1356.1 539.5,1353.0 540.0,1367.4 540.5,1355.7 541.0,1358.6 541.5,1347.0 542.0,1344.4 542.5,1352.4"/>
<polyline fill="none" stroke="#f00" stroke-width="1" stroke-linejoin="miter" points="391.5,1382.6 393.0,1381.0 394.5,1386.9 396.0,1381.7 397.5,1383.3 399.0,1382.5 400.5,1382.3 402.0,1375.1 403.5,1383.7 405.0,1386.4 406.5,1378.0 408.0,1380.0 409.5,1374.3 411.0,1371.3 412.5,1371.4 414.0,1377.4 415.5,1359.2 417.0,1360.5 418.5,1362.3 420.0,1356.4 421.5,1361.9 423.0,1356.1 424.5,1343.9 426.0,1359.3 427.5,1356.8 429.0,1369.5 430.5,1364.6 432.0,1363.7 433.5,1356.8 435.0,1371.3 436.5,1375.9 438.0,1370.3 439.5,1373.6 441.0,1375.1 442.5,1369.8 444.0,1372.3 445.5,1371.4 447.0,1383.3 448.5,1386.2 450.0,1373.9"/>
<path fill="#00f" d="M538 1290h1v60h-1zM539 1280h1v60h-1zM540 1300h1v50h-1zM541 1250h1v80h-1zM542 1150h1v150h-1zM543 865h1v335h-1zM544 865h1v235h-1z"/>
<path fill="#f00" d="M541 1330h1v40h-1zM542 1300h1v60h-1zM543 1200h1v130h-1zM544 1000h1v250h-1zM545 865h1v235h-1z"/>
<g stroke="#000" stroke-width="1" fill="none">
<line x1="179.5" y1="869" x2="179.5" y2="1402" stroke-dasharray="1 4"/>
<line x1="203.5" y1="869" x2="203.5" y2="1402" stroke-dasharray="1 4"/>
<line x1="226.5" y1="869" x2="226.5" y2="1402" stroke-dasharray="1 4"/>
<line x1="250.5" y1="869" x2="250.5" y2="1402" stroke-dasharray="1 4"/>
<line x1="274.5" y1="869" x2="274.5" y2="1402" stroke-dasharray="1 4"/>
<line x1="297.5" y1="869" x2="297.5" y2="1402" stroke-dasharray="1 4"/>
<line x1="321.5" y1="869" x2="321.5" y2="1402" stroke-dasharray="1 4"/>
<line x1="345.5" y1="869" x2="345.5" y2="1402" stroke-dasharray="1 4"/>
<line x1="368.5" y1="869" x2="368.5" y2="1402" stroke-dasharray="1 4"/>
<line x1="392.5" y1="869" x2="392.5" y2="1402" stroke-dasharray="1 4"/>
<line x1="416.5" y1="869" x2="416.5" y2="1402" stroke-dasharray="1 4"/>
<line x1="439.5" y1="869" x2="439.5" y2="1402" stroke-dasharray="1 4"/>
<line x1="463.5" y1="869" x2="463.5" y2="1402" stroke-dasharray="1 4"/>
<line x1="487.5" y1="872" x2="487.5" y2="1402" stroke-dasharray="1 4"/>
<line x1="510.5" y1="869" x2="510.5" y2="1402" stroke-dasharray="1 4"/>
<line x1="534.5" y1="869" x2="534.5" y2="1402" stroke-dasharray="1 4"/>
</g>
<path fill="none" stroke="#000" stroke-width="1" d="M156.5 864.5H558.5V1402.5H156.5ZM156.5 1384.5h3M558.5 1384.5h-3M156.5 1366.5h3M558.5 1366.5h-3M156.5 1348.5h3M558.5 1348.5h-3M156.5 1330.5h3M558.5 1330.5h-3M156.5 1312.5h5M558.5 1312.5h-5M156.5 1294.5h3M558.5 1294.5h-3M156.5 1276.5h3M558.5 1276.5h-3M156.5 1258.5h3M558.5 1258.5h-3M156.5 1240.5h3M558.5 1240.5h-3M156.5 1222.5h5M558.5 1222.5h-5M156.5 1204.5h3M558.5 1204.5h-3M156.5 1186.5h3M558.5 1186.5h-3M156.5 1168.5h3M558.5 1168.5h-3M156.5 1150.5h3M558.5 1150.5h-3M156.5 1133.5h5M558.5 1133.5h-5M156.5 1115.5h3M558.5 1115.5h-3M156.5 1097.5h3M558.5 1097.5h-3M156.5 1079.5h3M558.5 1079.5h-3M156.5 1061.5h3M558.5 1061.5h-3M156.5 1043.5h5M558.5 1043.5h-5M156.5 1025.5h3M558.5 1025.5h-3M156.5 1007.5h3M558.5 1007.5h-3M156.5 989.5h3M558.5 989.5h-3M156.5 971.5h3M558.5 971.5h-3M156.5 953.5h5M558.5 953.5h-5M156.5 935.5h3M558.5 935.5h-3M156.5 917.5h3M558.5 917.5h-3M156.5 899.5h3M558.5 899.5h-3M156.5 881.5h3M558.5 881.5h-3M487.5 864.5v5M487.5 1402.5v-5"/>
<g stroke="#000" stroke-width="1" fill="none">
<line x1="1015.5" y1="871" x2="1015.5" y2="1402" stroke-dasharray="1 4"/>
<line x1="688" y1="1334.5" x2="1086" y2="1334.5" stroke-dasharray="1 4"/>
<line x1="688" y1="1267.5" x2="1086" y2="1267.5" stroke-dasharray="1 4"/>
<line x1="688" y1="1200.5" x2="1086" y2="1200.5" stroke-dasharray="1 4"/>
<line x1="688" y1="1133.5" x2="1086" y2="1133.5" stroke-dasharray="1 4"/>
<line x1="688" y1="1065.5" x2="1086" y2="1065.5" stroke-dasharray="1 4"/>
<line x1="688" y1="998.5" x2="1086" y2="998.5" stroke-dasharray="1 4"/>
<line x1="688" y1="931.5" x2="1086" y2="931.5" stroke-dasharray="1 4"/>
</g>
<path fill="#f00" d="M887 1265h1v58h-1zM888 1236h1v98h-1zM889 1242h1v79h-1zM890 1256h1v78h-1zM891 1236h1v83h-1zM892 1253h1v68h-1zM893 1254h1v72h-1zM894 1250h1v78h-1zM895 1250h1v82h-1zM896 1249h1v80h-1zM897 1245h1v76h-1zM898 1242h1v91h-1zM899 1236h1v90h-1zM900 1230h1v99h-1zM901 1249h1v84h-1zM902 1258h1v67h-1zM910 1255h1v136h-1zM912 1310h1v84h-1zM913 1255h1v142h-1zM914 1260h1v131h-1zM915 1307h1v87h-1zM917 1267h1v127h-1zM917 1286h1v62h-1zM918 1291h1v56h-1zM919 1270h1v81h-1zM920 1295h1v58h-1zM921 1294h1v52h-1zM922 1292h1v55h-1zM923 1275h1v81h-1zM924 1283h1v71h-1zM925 1275h1v79h-1zM926 1288h1v71h-1zM927 1264h1v93h-1zM928 1259h1v92h-1zM929 1236h1v116h-1zM930 1255h1v105h-1zM931 1274h1v86h-1zM932 1277h1v84h-1zM933 1270h1v87h-1zM934 1288h1v74h-1zM935 1265h1v95h-1zM936 1283h1v71h-1zM937 1291h1v63h-1zM938 1273h1v91h-1zM939 1289h1v70h-1zM940 1297h1v62h-1zM941 1293h1v70h-1zM942 1303h1v58h-1zM943 1305h1v60h-1zM944 1310h1v50h-1zM945 1296h1v64h-1zM946 1317h1v39h-1zM947 1298h1v69h-1zM948 1308h1v57h-1zM949 1280h1v92h-1zM950 1324h1v40h-1zM951 1321h1v53h-1zM952 1288h1v82h-1zM953 1332h1v46h-1zM954 1302h1v74h-1zM955 1339h1v41h-1zM956 1329h1v46h-1zM957 1346h1v28h-1zM958 1348h1v35h-1zM959 1328h1v57h-1zM960 1346h1v42h-1zM961 1348h1v31h-1zM962 1340h1v44h-1zM963 1362h1v24h-1zM964 1354h1v31h-1zM965 1360h1v25h-1zM966 1350h1v31h-1zM967 1352h1v31h-1zM968 1358h1v36h-1zM969 1369h1v25h-1zM970 1356h1v36h-1zM971 1357h1v33h-1zM972 1379h1v7h-1zM973 1373h1v15h-1zM974 1383h1v11h-1zM975 1386h1v1h-1zM976 1379h1v15h-1zM977 1369h1v24h-1zM978 1366h1v24h-1zM979 1385h1v2h-1zM980 1366h1v26h-1zM981 1387h1v3h-1zM982 1385h1v9h-1zM983 1388h1v8h-1zM984 1385h1v11h-1zM985 1390h1v6h-1zM986 1384h1v13h-1zM987 1391h1v7h-1zM988 1387h1v2h-1zM989 1386h1v13h-1zM990 1390h1v9h-1zM991 1390h1v11h-1zM992 1375h1v21h-1zM993 1377h1v19h-1zM994 1391h1v7h-1zM995 1391h1v5h-1zM996 1389h1v2h-1zM997 1382h1v7h-1zM998 1389h1v11h-1zM999 1382h1v10h-1zM1000 1385h1v8h-1zM1001 1370h1v22h-1zM1002 1382h1v11h-1zM1003 1381h1v18h-1zM1004 1380h1v14h-1zM1005 1390h1v6h-1zM1007 1394h1v4h-1zM1008 1387h1v11h-1zM1009 1386h1v12h-1zM1015 1385h1v15h-1zM1016 1391h1v9h-1zM1018 1389h1v10h-1zM1020 1394h1v7h-1zM1027 1394h1v7h-1zM1034 1387h1v14h-1zM1035 1395h1v4h-1zM1039 1386h1v14h-1zM1040 1390h1v8h-1zM1041 1391h1v7h-1zM1042 1389h1v9h-1zM1045 1394h1v4h-1zM1047 1393h1v8h-1zM1048 1386h1v13h-1zM1051 1395h1v5h-1zM1054 1393h1v5h-1zM1055 1391h1v7h-1zM1056 1389h1v10h-1zM1061 1394h1v7h-1zM1065 1390h1v10h-1z"/>
<path fill="#00f" d="M696 1400h1v2h-1zM697 1400h1v2h-1zM698 1400h1v2h-1zM699 1399h1v3h-1zM700 1400h1v2h-1zM701 1400h1v2h-1zM702 1400h1v2h-1zM703 1400h1v2h-1zM704 1400h1v2h-1zM705 1400h1v2h-1zM706 1400h1v2h-1zM707 1400h1v2h-1zM708 1399h1v3h-1zM709 1399h1v3h-1zM710 1400h1v2h-1zM711 1400h1v2h-1zM712 1400h1v2h-1zM713 1400h1v2h-1zM714 1400h1v2h-1zM715 1399h1v3h-1zM716 1400h1v2h-1zM717 1400h1v2h-1zM718 1400h1v2h-1zM719 1400h1v2h-1zM720 1400h1v2h-1zM721 1400h1v2h-1zM722 1400h1v2h-1zM723 1400h1v2h-1zM724 1400h1v2h-1zM725 1400h1v2h-1zM726 1400h1v2h-1zM727 1399h1v3h-1zM728 1400h1v2h-1zM729 1400h1v2h-1zM730 1400h1v2h-1zM731 1400h1v2h-1zM732 1400h1v2h-1zM733 1400h1v2h-1zM734 1400h1v2h-1zM735 1400h1v2h-1zM736 1400h1v2h-1zM737 1400h1v2h-1zM738 1399h1v3h-1zM739 1399h1v3h-1zM740 1399h1v3h-1zM741 1400h1v2h-1zM742 1400h1v2h-1zM743 1400h1v2h-1zM744 1400h1v2h-1zM745 1400h1v2h-1zM746 1400h1v2h-1zM747 1400h1v2h-1zM748 1400h1v2h-1zM749 1400h1v2h-1zM750 1400h1v2h-1zM751 1399h1v3h-1zM752 1400h1v2h-1zM753 1400h1v2h-1zM754 1400h1v2h-1zM755 1400h1v2h-1zM756 1400h1v2h-1zM757 1400h1v2h-1zM758 1400h1v2h-1zM759 1400h1v2h-1zM760 1400h1v2h-1zM761 1400h1v2h-1zM762 1399h1v3h-1zM763 1400h1v2h-1zM764 1399h1v3h-1zM765 1400h1v2h-1zM766 1400h1v2h-1zM767 1400h1v2h-1zM768 1400h1v2h-1zM769 1400h1v2h-1zM770 1400h1v2h-1zM771 1400h1v2h-1zM772 1400h1v2h-1zM773 1400h1v2h-1zM774 1400h1v2h-1zM775 1400h1v2h-1zM776 1400h1v2h-1zM777 1399h1v3h-1zM778 1400h1v2h-1zM779 1400h1v2h-1zM780 1400h1v2h-1zM781 1400h1v2h-1zM782 1400h1v2h-1zM783 1399h1v3h-1zM784 1400h1v2h-1zM785 1400h1v2h-1zM786 1400h1v2h-1zM787 1400h1v2h-1zM788 1400h1v2h-1zM789 1400h1v2h-1zM790 1400h1v2h-1zM791 1400h1v2h-1zM792 1400h1v2h-1zM793 1400h1v2h-1zM794 1400h1v2h-1zM795 1400h1v2h-1zM796 1400h1v2h-1zM797 1400h1v2h-1zM798 1400h1v2h-1zM799 1400h1v2h-1zM800 1400h1v2h-1zM801 1400h1v2h-1zM802 1400h1v2h-1zM803 1400h1v2h-1zM804 1400h1v2h-1zM805 1400h1v2h-1zM806 1400h1v2h-1zM807 1400h1v2h-1zM808 1399h1v3h-1zM809 1400h1v2h-1zM810 1400h1v2h-1zM811 1400h1v2h-1zM812 1400h1v2h-1zM813 1400h1v2h-1zM814 1400h1v2h-1zM815 1399h1v3h-1zM816 1400h1v2h-1zM817 1400h1v2h-1zM818 1400h1v2h-1zM819 1400h1v2h-1zM820 1400h1v2h-1zM821 1400h1v2h-1zM822 1400h1v2h-1zM823 1399h1v3h-1zM824 1400h1v2h-1zM825 1400h1v2h-1zM826 1400h1v2h-1zM827 1400h1v2h-1zM828 1400h1v2h-1zM829 1400h1v2h-1zM830 1400h1v2h-1zM831 1400h1v2h-1zM832 1400h1v2h-1zM833 1399h1v3h-1zM834 1400h1v2h-1zM835 1400h1v2h-1zM836 1400h1v2h-1zM837 1400h1v2h-1zM838 1400h1v2h-1zM839 1400h1v2h-1zM840 1400h1v2h-1zM841 1400h1v2h-1zM842 1399h1v3h-1zM843 1400h1v2h-1zM844 1400h1v2h-1zM845 1400h1v2h-1zM846 1400h1v2h-1zM847 1400h1v2h-1zM848 1400h1v2h-1zM849 1400h1v2h-1zM850 1400h1v2h-1zM851 1400h1v2h-1zM852 1400h1v2h-1zM853 1400h1v2h-1zM854 1400h1v2h-1zM855 1400h1v2h-1zM856 1400h1v2h-1zM857 1400h1v2h-1zM858 1400h1v2h-1zM859 1400h1v2h-1zM860 1400h1v2h-1zM861 1400h1v2h-1zM862 1399h1v3h-1zM863 1400h1v2h-1zM864 1400h1v2h-1zM865 1400h1v2h-1zM866 1400h1v2h-1zM867 1399h1v3h-1zM868 1400h1v2h-1zM869 1400h1v2h-1zM870 1400h1v2h-1zM871 1400h1v2h-1zM872 1400h1v2h-1zM873 1400h1v2h-1zM874 1400h1v2h-1zM875 1400h1v2h-1zM876 1400h1v2h-1zM877 1400h1v2h-1zM878 1399h1v3h-1zM879 1400h1v2h-1zM880 1400h1v2h-1zM881 1400h1v2h-1zM882 1400h1v2h-1zM883 1400h1v2h-1zM884 1399h1v3h-1zM885 1400h1v2h-1zM886 1400h1v2h-1zM887 1386h1v16h-1zM888 1376h1v26h-1zM889 1391h1v11h-1zM890 1372h1v30h-1zM891 1387h1v15h-1zM892 1370h1v32h-1zM893 1385h1v17h-1zM894 1381h1v21h-1zM895 1360h1v42h-1zM896 1358h1v44h-1zM897 1388h1v14h-1zM898 1379h1v23h-1zM899 1358h1v44h-1zM900 1379h1v23h-1zM901 1273h1v52h-1zM902 1251h1v37h-1zM903 1180h1v222h-1zM904 1121h1v281h-1zM905 1073h1v329h-1zM906 1049h1v353h-1zM907 1106h1v296h-1zM908 1207h1v53h-1zM909 1205h1v124h-1zM909 1389h1v13h-1zM910 1389h1v13h-1zM911 1393h1v9h-1zM912 1387h1v15h-1zM913 1391h1v11h-1zM914 1390h1v12h-1zM915 1392h1v10h-1zM916 1392h1v10h-1zM917 1396h1v6h-1zM917 1141h1v135h-1zM918 1094h1v192h-1zM919 1077h1v209h-1zM920 1102h1v176h-1zM921 1117h1v154h-1zM922 1125h1v150h-1zM923 1128h1v139h-1zM924 1139h1v124h-1zM925 1146h1v123h-1zM926 1149h1v117h-1zM927 1116h1v163h-1zM928 1086h1v281h-1zM929 1067h1v260h-1zM930 1071h1v191h-1zM931 1051h1v212h-1zM932 1043h1v229h-1zM933 1028h1v341h-1zM934 1018h1v242h-1zM935 1042h1v171h-1zM936 1058h1v152h-1zM937 1083h1v119h-1zM938 1104h1v174h-1zM939 1114h1v218h-1zM940 1118h1v86h-1zM941 1133h1v159h-1zM942 1148h1v57h-1zM943 1163h1v46h-1zM944 1160h1v131h-1zM945 1169h1v129h-1zM946 1174h1v131h-1zM947 1179h1v119h-1zM948 1183h1v111h-1zM949 1162h1v142h-1zM950 1184h1v125h-1zM951 1193h1v125h-1zM952 1204h1v116h-1zM953 1218h1v109h-1zM954 1206h1v123h-1zM955 1203h1v124h-1zM956 1227h1v99h-1zM957 1228h1v106h-1zM958 1205h1v161h-1zM959 1214h1v121h-1zM960 1203h1v144h-1zM961 1207h1v126h-1zM962 1218h1v139h-1zM963 1248h1v91h-1zM964 1254h1v87h-1zM965 1274h1v65h-1zM966 1275h1v83h-1zM967 1279h1v62h-1zM968 1274h1v78h-1zM969 1286h1v66h-1zM970 1283h1v64h-1zM971 1281h1v73h-1zM972 1286h1v81h-1zM973 1293h1v59h-1zM974 1307h1v66h-1zM975 1305h1v63h-1zM976 1311h1v61h-1zM977 1320h1v45h-1zM978 1325h1v45h-1zM979 1331h1v35h-1zM980 1325h1v51h-1zM981 1310h1v63h-1zM982 1306h1v76h-1zM983 1311h1v62h-1zM984 1314h1v73h-1zM985 1306h1v62h-1zM986 1316h1v61h-1zM987 1323h1v64h-1zM988 1322h1v57h-1zM989 1326h1v47h-1zM990 1347h1v43h-1zM991 1347h1v46h-1zM992 1347h1v39h-1zM993 1353h1v32h-1zM994 1355h1v26h-1zM995 1341h1v50h-1zM996 1344h1v37h-1zM997 1338h1v50h-1zM998 1323h1v57h-1zM999 1329h1v61h-1zM1000 1325h1v73h-1zM1001 1338h1v60h-1zM1002 1312h1v88h-1zM1003 1333h1v66h-1zM1004 1348h1v47h-1zM1005 1347h1v53h-1zM1006 1347h1v55h-1zM1007 1354h1v46h-1zM1008 1366h1v30h-1zM1009 1361h1v33h-1zM1010 1367h1v29h-1zM1011 1368h1v26h-1zM1012 1373h1v19h-1zM1013 1358h1v34h-1zM1014 1357h1v40h-1zM1015 1348h1v46h-1zM1016 1357h1v41h-1zM1017 1368h1v31h-1zM1018 1349h1v43h-1zM1019 1369h1v27h-1zM1020 1375h1v23h-1zM1021 1368h1v31h-1zM1022 1375h1v16h-1zM1023 1368h1v23h-1zM1024 1356h1v44h-1zM1025 1370h1v23h-1zM1026 1375h1v26h-1zM1027 1376h1v25h-1zM1028 1359h1v40h-1zM1029 1374h1v22h-1zM1030 1369h1v28h-1zM1031 1376h1v25h-1zM1032 1375h1v25h-1zM1033 1372h1v26h-1zM1034 1374h1v23h-1zM1035 1352h1v47h-1zM1036 1382h1v13h-1zM1037 1383h1v11h-1zM1038 1378h1v14h-1zM1039 1373h1v18h-1zM1040 1381h1v21h-1zM1041 1383h1v14h-1zM1042 1381h1v10h-1zM1043 1385h1v15h-1zM1044 1370h1v23h-1zM1045 1385h1v9h-1zM1046 1379h1v18h-1zM1047 1378h1v15h-1zM1048 1364h1v28h-1zM1049 1375h1v22h-1zM1050 1377h1v24h-1zM1051 1380h1v16h-1zM1052 1386h1v10h-1zM1053 1383h1v19h-1zM1054 1379h1v17h-1zM1055 1386h1v12h-1zM1056 1372h1v29h-1zM1057 1368h1v25h-1zM1058 1363h1v34h-1zM1059 1369h1v28h-1zM1060 1369h1v33h-1zM1061 1369h1v22h-1zM1062 1363h1v39h-1zM1063 1368h1v27h-1zM1064 1368h1v34h-1zM1065 1369h1v26h-1zM1066 1379h1v21h-1zM1067 1378h1v22h-1zM1068 1378h1v20h-1zM1069 1383h1v12h-1zM1070 1382h1v13h-1zM1071 1372h1v20h-1zM1072 1380h1v22h-1zM917 1100h1v302h-1zM918 1100h1v302h-1zM1073 1400h1v2h-1zM1074 1400h1v2h-1zM1075 1400h1v2h-1zM1076 1400h1v2h-1zM1077 1400h1v2h-1zM1078 1400h1v2h-1zM1079 1400h1v2h-1zM1080 1400h1v2h-1zM1081 1400h1v2h-1zM1082 1400h1v2h-1zM1083 1400h1v2h-1zM1084 1400h1v2h-1zM1085 1400h1v2h-1zM1086 1400h1v2h-1z"/>
<g stroke="#000" stroke-width="1" fill="none">
<line x1="707.5" y1="869" x2="707.5" y2="1402" stroke-dasharray="1 4"/>
<line x1="731.5" y1="869" x2="731.5" y2="1402" stroke-dasharray="1 4"/>
<line x1="754.5" y1="869" x2="754.5" y2="1402" stroke-dasharray="1 4"/>
<line x1="778.5" y1="869" x2="778.5" y2="1402" stroke-dasharray="1 4"/>
<line x1="802.5" y1="869" x2="802.5" y2="1402" stroke-dasharray="1 4"/>
<line x1="825.5" y1="869" x2="825.5" y2="1402" stroke-dasharray="1 4"/>
<line x1="849.5" y1="869" x2="849.5" y2="1402" stroke-dasharray="1 4"/>
<line x1="873.5" y1="869" x2="873.5" y2="1402" stroke-dasharray="1 4"/>
<line x1="896.5" y1="869" x2="896.5" y2="1402" stroke-dasharray="1 4"/>
<line x1="920.5" y1="869" x2="920.5" y2="1402" stroke-dasharray="1 4"/>
<line x1="944.5" y1="869" x2="944.5" y2="1402" stroke-dasharray="1 4"/>
<line x1="967.5" y1="869" x2="967.5" y2="1402" stroke-dasharray="1 4"/>
<line x1="991.5" y1="869" x2="991.5" y2="1402" stroke-dasharray="1 4"/>
<line x1="1015.5" y1="872" x2="1015.5" y2="1402" stroke-dasharray="1 4"/>
<line x1="1038.5" y1="869" x2="1038.5" y2="1402" stroke-dasharray="1 4"/>
<line x1="1062.5" y1="869" x2="1062.5" y2="1402" stroke-dasharray="1 4"/>
</g>
<path fill="none" stroke="#000" stroke-width="1" d="M684.5 864.5H1086.5V1402.5H684.5ZM684.5 1388.5h3M1086.5 1388.5h-3M684.5 1375.5h3M1086.5 1375.5h-3M684.5 1361.5h3M1086.5 1361.5h-3M684.5 1348.5h3M1086.5 1348.5h-3M684.5 1334.5h5M1086.5 1334.5h-5M684.5 1321.5h3M1086.5 1321.5h-3M684.5 1307.5h3M1086.5 1307.5h-3M684.5 1294.5h3M1086.5 1294.5h-3M684.5 1280.5h3M1086.5 1280.5h-3M684.5 1267.5h5M1086.5 1267.5h-5M684.5 1254.5h3M1086.5 1254.5h-3M684.5 1240.5h3M1086.5 1240.5h-3M684.5 1227.5h3M1086.5 1227.5h-3M684.5 1213.5h3M1086.5 1213.5h-3M684.5 1200.5h5M1086.5 1200.5h-5M684.5 1186.5h3M1086.5 1186.5h-3M684.5 1173.5h3M1086.5 1173.5h-3M684.5 1159.5h3M1086.5 1159.5h-3M684.5 1146.5h3M1086.5 1146.5h-3M684.5 1133.5h5M1086.5 1133.5h-5M684.5 1119.5h3M1086.5 1119.5h-3M684.5 1106.5h3M1086.5 1106.5h-3M684.5 1092.5h3M1086.5 1092.5h-3M684.5 1079.5h3M1086.5 1079.5h-3M684.5 1065.5h5M1086.5 1065.5h-5M684.5 1052.5h3M1086.5 1052.5h-3M684.5 1038.5h3M1086.5 1038.5h-3M684.5 1025.5h3M1086.5 1025.5h-3M684.5 1011.5h3M1086.5 1011.5h-3M684.5 998.5h5M1086.5 998.5h-5M684.5 985.5h3M1086.5 985.5h-3M684.5 971.5h3M1086.5 971.5h-3M684.5 958.5h3M1086.5 958.5h-3M684.5 944.5h3M1086.5 944.5h-3M684.5 931.5h5M1086.5 931.5h-5M684.5 917.5h3M1086.5 917.5h-3M684.5 904.5h3M1086.5 904.5h-3M684.5 890.5h3M1086.5 890.5h-3M684.5 877.5h3M1086.5 877.5h-3M1015.5 864.5v5M1015.5 1402.5v-5"/>
<g font-family="Liberation Sans, sans-serif" font-size="24" fill="#000" style="will-change:transform">
<text transform="translate(153.15,191.00) scale(1.0484,1)">20120821 Trajectory COSMOS2414</text>
<text transform="translate(349.91,204.00) scale(1.0909,1)">0</text>
<text transform="translate(438.76,229.00) scale(1.0440,1)">30</text>
<text transform="translate(508.97,300.00) scale(1.0320,1)">60</text>
<text transform="translate(534.96,396.00) scale(1.0400,1)">90</text>
<text transform="translate(501.17,493.00) scale(1.0649,1)">120</text>
<text transform="translate(432.93,563.00) scale(1.0351,1)">150</text>
<text transform="translate(336.96,588.00) scale(1.0189,1)">180</text>
<text transform="translate(238.95,563.00) scale(1.0526,1)">210</text>
<text transform="translate(168.95,493.00) scale(1.0526,1)">240</text>
<text transform="translate(143.17,396.00) scale(1.0263,1)">270</text>
<text transform="translate(168.95,300.00) scale(1.0526,1)">300</text>
<text transform="translate(238.63,229.00) scale(1.0684,1)">330</text>
<text transform="translate(548.63,355.00) scale(1.0351,1)">100</text>
<text transform="translate(460.96,367.00) scale(1.0400,1)">50</text>
<text transform="translate(314.87,244.00) scale(1.0265,1)">054631 UT</text>
<text transform="translate(287.13,396.00) scale(1.0748,1)">055511 UT</text>
<text transform="translate(330.07,551.00) scale(1.0308,1)">060349 UT</text>
<text transform="translate(754.36,98.00) scale(1.0435,1)">20120821 054632 TEC</text>
<text transform="translate(641.77,665.00) scale(1.0450,1)">-50</text>
<text transform="translate(664.76,486.00) scale(1.0450,1)">0</text>
<text transform="translate(650.13,307.00) scale(1.0450,1)">50</text>
<text transform="translate(636.54,128.00) scale(1.0450,1)">100</text>
<text transform="translate(620.00,388.50) rotate(-90) translate(-24.52,0) scale(1.0217,1)">TEC</text>
<text transform="translate(983.95,686.00) scale(1.0483,1)">06:00</text>
<text transform="translate(730.89,714.00) scale(1.0557,1)">UT, from 05:46 to 06:03 UT</text>
<text transform="translate(159.16,844.00) scale(1.0444,1)">20120821 054632 S4 red(150MHz)</text>
<text transform="translate(136.56,1412.00) scale(1.0450,1)">0</text>
<text transform="translate(115.66,1322.00) scale(1.0450,1)">0.5</text>
<text transform="translate(136.56,1232.00) scale(1.0450,1)">1</text>
<text transform="translate(115.66,1143.00) scale(1.0450,1)">1.5</text>
<text transform="translate(136.56,1053.00) scale(1.0450,1)">2</text>
<text transform="translate(115.66,963.00) scale(1.0450,1)">2.5</text>
<text transform="translate(136.56,874.00) scale(1.0450,1)">3</text>
<text transform="translate(99.00,1135.50) rotate(-90) translate(-15.54,0) scale(1.0357,1)">S4</text>
<text transform="translate(455.44,1433.00) scale(1.0603,1)">06:00</text>
<text transform="translate(202.39,1461.00) scale(1.0575,1)">UT, from 05:46 to 06:03 UT</text>
<text transform="translate(676.05,844.00) scale(1.0481,1)">20120821 054632 Amp red(150MHz)</text>
<text transform="translate(664.76,1412.00) scale(1.0450,1)">0</text>
<text transform="translate(650.13,1344.00) scale(1.0450,1)">50</text>
<text transform="translate(636.54,1277.00) scale(1.0450,1)">100</text>
<text transform="translate(636.54,1210.00) scale(1.0450,1)">150</text>
<text transform="translate(636.54,1143.00) scale(1.0450,1)">200</text>
<text transform="translate(636.54,1075.00) scale(1.0450,1)">250</text>
<text transform="translate(636.54,1008.00) scale(1.0450,1)">300</text>
<text transform="translate(636.54,941.00) scale(1.0450,1)">350</text>
<text transform="translate(636.54,874.00) scale(1.0450,1)">400</text>
<text transform="translate(620.00,1134.00) rotate(-90) translate(-25.00,0) scale(1.0417,1)">Amp</text>
<text transform="translate(983.95,1433.00) scale(1.0483,1)">06:00</text>
<text transform="translate(730.89,1461.00) scale(1.0557,1)">UT, from 05:46 to 06:03 UT</text>
</g>
</svg></body></html>
